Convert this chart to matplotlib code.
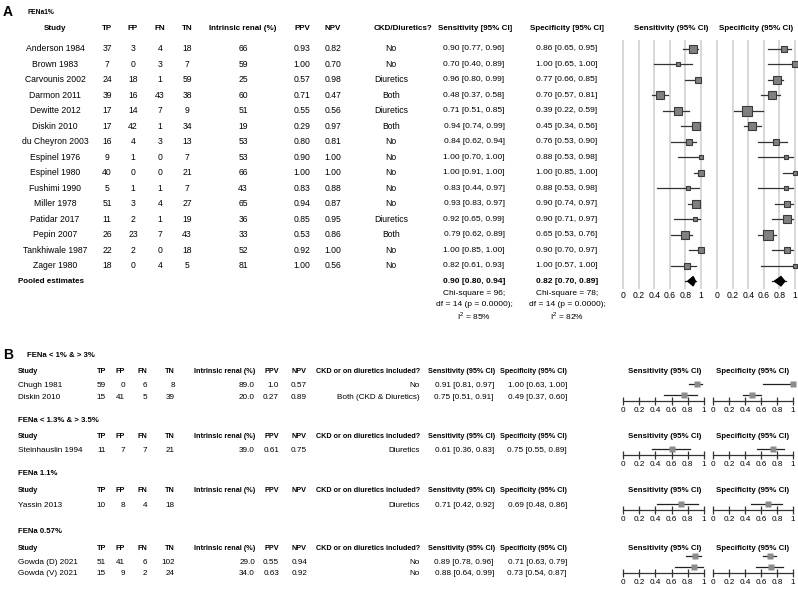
import numpy as np
import matplotlib
matplotlib.use("Agg")
import matplotlib.pyplot as plt
from matplotlib.patches import Polygon

plt.rcParams['font.family'] = ['Liberation Sans', 'DejaVu Sans']
plt.rcParams['mathtext.fontset'] = 'custom'
plt.rcParams['mathtext.rm'] = 'Liberation Sans'

# ---- panel A data (FENa 1%) ----
studies_a = ["Anderson 1984", "Brown 1983", "Carvounis 2002", "Darmon 2011", "Dewitte 2012",
             "Diskin 2010", "du Cheyron 2003", "Espinel 1976", "Espinel 1980", "Fushimi 1990",
             "Miller 1978", "Patidar 2017", "Pepin 2007", "Tankhiwale 1987", "Zager 1980"]
tp_a = [37, 7, 24, 39, 17, 17, 16, 9, 40, 5, 51, 11, 26, 22, 18]
fp_a = [3, 0, 18, 16, 14, 42, 4, 1, 0, 1, 3, 2, 23, 2, 0]
fn_a = [4, 3, 1, 43, 7, 1, 3, 0, 0, 1, 4, 1, 7, 0, 4]
tn_a = [18, 7, 59, 38, 9, 34, 13, 7, 21, 7, 27, 19, 43, 18, 5]
renal_a = [66, 59, 25, 60, 51, 19, 53, 53, 66, 43, 65, 36, 33, 52, 81]
ppv_a = [0.93, 1.00, 0.57, 0.71, 0.55, 0.29, 0.80, 0.90, 1.00, 0.83, 0.94, 0.85, 0.53, 0.92, 1.00]
npv_a = [0.82, 0.70, 0.98, 0.47, 0.56, 0.97, 0.81, 1.00, 1.00, 0.88, 0.87, 0.95, 0.86, 1.00, 0.56]
ckd_a = ["No", "No", "Diuretics", "Both", "Diuretics", "Both", "No", "No", "No", "No",
         "No", "Diuretics", "Both", "No", "No"]
sens_a = [0.90, 0.70, 0.96, 0.48, 0.71, 0.94, 0.84, 1.00, 1.00, 0.83, 0.93, 0.92, 0.79, 1.00, 0.82]
sens_lo_a = [0.77, 0.40, 0.80, 0.37, 0.51, 0.74, 0.62, 0.70, 0.91, 0.44, 0.83, 0.65, 0.62, 0.85, 0.61]
sens_hi_a = [0.96, 0.89, 0.99, 0.58, 0.85, 0.99, 0.94, 1.00, 1.00, 0.97, 0.97, 0.99, 0.89, 1.00, 0.93]
spec_a = [0.86, 1.00, 0.77, 0.70, 0.39, 0.45, 0.76, 0.88, 1.00, 0.88, 0.90, 0.90, 0.65, 0.90, 1.00]
spec_lo_a = [0.65, 0.65, 0.66, 0.57, 0.22, 0.34, 0.53, 0.53, 0.85, 0.53, 0.74, 0.71, 0.53, 0.70, 0.57]
spec_hi_a = [0.95, 1.00, 0.85, 0.81, 0.59, 0.56, 0.90, 0.98, 1.00, 0.98, 0.97, 0.97, 0.76, 0.97, 1.00]
# relative study weights (square size)
sens_w_a = [6.5, 4, 5.5, 7.5, 7, 7, 6, 4, 5, 4, 7.5, 4.5, 7, 5, 6]
spec_w_a = [6, 5, 8, 8, 8.5, 8, 6, 3, 4, 4.5, 6, 7, 8.5, 5, 3.5]
pooled_sens = (0.90, 0.80, 0.94)
pooled_spec = (0.82, 0.70, 0.89)
het_sens = ["Chi-square = 96;", "df = 14 (p = 0.0000);", r"I$^2$ = 85%"]
het_spec = ["Chi-square = 78;", "df = 14 (p = 0.0000);", r"I$^2$ = 82%"]

# ---- panel B data ----
groups_b = ["FENa < 1% & > 3%", "FENa < 1.3% & > 3.5%", "FENa 1.1%", "FENa 0.57%"]
studies_b = [["Chugh 1981", "Diskin 2010"], ["Steinhauslin 1994"], ["Yassin 2013"],
             ["Gowda (D) 2021", "Gowda (V) 2021"]]
tp_b = [[59, 15], [11], [10], [51, 15]]
fp_b = [[0, 41], [7], [8], [41, 9]]
fn_b = [[6, 5], [7], [4], [6, 2]]
tn_b = [[8, 39], [21], [18], [102, 24]]
renal_b = [["89.0", "20.0"], ["39.0"], [""], ["29.0", "34.0"]]
ppv_b = [["1.0", "0.27"], ["0.61"], [""], ["0.55", "0.63"]]
npv_b = [["0.57", "0.89"], ["0.75"], [""], ["0.94", "0.92"]]
ckd_b = [["No", "Both (CKD & Diuretics)"], ["Diuretics"], ["Diuretics"], ["No", "No"]]
sens_b = [[(0.91, 0.81, 0.97), (0.75, 0.51, 0.91)], [(0.61, 0.36, 0.83)], [(0.71, 0.42, 0.92)],
          [(0.89, 0.78, 0.96), (0.88, 0.64, 0.99)]]
spec_b = [[(1.00, 0.63, 1.00), (0.49, 0.37, 0.60)], [(0.75, 0.55, 0.89)], [(0.69, 0.48, 0.86)],
          [(0.71, 0.63, 0.79), (0.73, 0.54, 0.87)]]

ticks = [0, 0.2, 0.4, 0.6, 0.8, 1]
tick_labels = ["0", "0.2", "0.4", "0.6", "0.8", "1"]

W, H = 798, 591
fig = plt.figure(figsize=(W / 100, H / 100), dpi=100)


def put(x, y, s, size=6.2, **kw):
    fig.text(x / W, 1 - y / H, s, va='center', fontsize=size, **kw)


def ax_px(left, top, right, bottom):
    return fig.add_axes([left / W, 1 - bottom / H, (right - left) / W, (bottom - top) / H])


def fmt_ci(t):
    return "%.2f [%.2f, %.2f]" % t

# ================= panel A =================
put(3, 12, "A", size=10, weight='bold')
put(27, 12, "FENa1%", size=4.8, weight='bold')

y0, dy = 48.7, 15.5
hy = 29
ha_sz = 5.8
put(55, hy, "Study", size=ha_sz, ha='center', weight='bold')
for x, s in [(107, "TP"), (133, "FP"), (160, "FN"), (187, "TN"), (243, "Intrinsic renal (%)"),
             (302, "PPV"), (333, "NPV"), (403, "CKD/Diuretics?"), (475, "Sensitivity [95% CI]"),
             (567, "Specificity [95% CI]"), (671, "Sensitivity (95% CI)"), (756, "Specificity (95% CI)")]:
    put(x, hy, s, size=ha_sz, ha='center', weight='bold')

for i, name in enumerate(studies_a):
    y = y0 + dy * i
    put(55, y, name, ha='center')
    put(107, y, str(tp_a[i]), ha='center')
    put(133, y, str(fp_a[i]), ha='center')
    put(160, y, str(fn_a[i]), ha='center')
    put(187, y, str(tn_a[i]), ha='center')
    put(243, y, str(renal_a[i]), ha='center')
    put(302, y, "%.2f" % ppv_a[i], ha='center')
    put(333, y, "%.2f" % npv_a[i], ha='center')
    put(391, y, ckd_a[i], ha='center')
    put(474, y, fmt_ci((sens_a[i], sens_lo_a[i], sens_hi_a[i])), ha='center', size=6.0)
    put(567, y, fmt_ci((spec_a[i], spec_lo_a[i], spec_hi_a[i])), ha='center', size=6.0)

yp = y0 + dy * len(studies_a)
put(18, yp, "Pooled estimates", size=ha_sz, weight='bold')
put(474, yp, fmt_ci(pooled_sens), ha='center', size=6.0, weight='bold')
put(567, yp, fmt_ci(pooled_spec), ha='center', size=6.0, weight='bold')
for k in range(3):
    put(474, 294 + 11 * k, het_sens[k], ha='center', size=6.0)
    put(567, 294 + 11 * k, het_spec[k], ha='center', size=6.0)

n_a = len(studies_a)
top_a, bot_a = 40, 289
m = 0.03
for (x0, x1), est, lo, hi, wts, pooled in [((623, 701), sens_a, sens_lo_a, sens_hi_a, sens_w_a, pooled_sens),
                                           ((717, 795), spec_a, spec_lo_a, spec_hi_a, spec_w_a, pooled_spec)]:
    span = x1 - x0
    ax = ax_px(x0 - m * span, top_a, x1 + m * span, bot_a)
    ax.set_xlim(-m, 1 + m)
    ax.set_ylim((bot_a - y0) / dy, (top_a - y0) / dy)
    ax.set_xticks(ticks)
    ax.set_xticklabels(tick_labels)
    ax.set_yticks([])
    ax.tick_params(axis='x', length=0, labelsize=6.2, pad=1.5)
    ax.grid(axis='x', color='#d4d4d4', lw=1.3)
    ax.set_axisbelow(True)
    for sp in ax.spines.values():
        sp.set_visible(False)
    ax.patch.set_alpha(0)
    for i in range(n_a):
        ax.plot([lo[i], hi[i]], [i, i], color='#333333', lw=0.9, clip_on=False, zorder=2)
        ax.plot(est[i], i, marker='s', ms=wts[i] * 0.78, mfc='#808080', mec='#3a3a3a',
                mew=0.8, clip_on=False, zorder=3)
    e, l, h = pooled
    ax.plot([l, h], [n_a, n_a], color='#222222', lw=0.9, zorder=2)
    ax.add_patch(Polygon([(l + 0.3 * (e - l), n_a), (e, n_a - 0.3), (h - 0.3 * (h - e), n_a), (e, n_a + 0.3)],
                         closed=True, color='black', zorder=3))

# ================= panel B =================
put(3, 355, "B", size=10, weight='bold')
title_y = [355.7, 420, 473.3, 531.7]
title_x = [27, 18, 18, 18]
head_y = [371.7, 436, 491, 548.3]
row_y = [[385.7, 397.3], [451], [505.3], [562.3, 573.3]]
axis_y = [401, 455, 510, 573]
bs = 5.9
hs = 5.2

for g, grp in enumerate(groups_b):
    put(title_x[g], title_y[g], grp, size=5.6, weight='bold')
    hy = head_y[g]
    put(18, hy, "Study", size=hs, weight='bold')
    for x, s in [(106, "TP"), (125, "FP"), (147, "FN"), (175, "TN"), (255, "Intrinsic renal (%)"),
                 (279, "PPV"), (307, "NPV"), (420, "CKD or on diuretics included?"),
                 (495, "Sensitivity (95% CI)"), (567, "Specificity (95% CI)")]:
        put(x, hy, s, size=hs, ha='right', weight='bold')
    put(665, hy, "Sensitivity (95% CI)", size=5.7, ha='center', weight='bold')
    put(753, hy, "Specificity (95% CI)", size=5.7, ha='center', weight='bold')
    n = len(studies_b[g])
    for i in range(n):
        y = row_y[g][i]
        put(18, y, studies_b[g][i], size=bs)
        put(106, y, str(tp_b[g][i]), size=bs, ha='right')
        put(125, y, str(fp_b[g][i]), size=bs, ha='right')
        put(147, y, str(fn_b[g][i]), size=bs, ha='right')
        put(175, y, str(tn_b[g][i]), size=bs, ha='right')
        put(255, y, renal_b[g][i], size=bs, ha='right')
        put(279, y, ppv_b[g][i], size=bs, ha='right')
        put(307, y, npv_b[g][i], size=bs, ha='right')
        put(420, y, ckd_b[g][i], size=bs, ha='right')
        put(494, y, fmt_ci(sens_b[g][i]), size=bs, ha='right')
        put(567, y, fmt_ci(spec_b[g][i]), size=bs, ha='right')

    ya = axis_y[g]
    hpx = 11 * n + 2
    for (x0, x1), vals in [((623, 704), sens_b[g]), ((713, 793), spec_b[g])]:
        ax = ax_px(x0, ya - hpx, x1, ya)
        ax.set_xlim(0, 1)
        ax.set_ylim(0, hpx)
        ax.set_xticks(ticks)
        ax.set_xticklabels(tick_labels)
        ax.set_yticks([])
        ax.tick_params(axis='x', direction='inout', length=6, width=0.9, color='#333333',
                       labelsize=bs, pad=1.0)
        for s in ['top', 'left', 'right']:
            ax.spines[s].set_visible(False)
        ax.spines['bottom'].set_color('#333333')
        ax.spines['bottom'].set_linewidth(0.9)
        ax.patch.set_alpha(0)
        for i in range(n):
            yy = 6 + 11 * (n - 1 - i)
            e, l, h = vals[i]
            ax.plot([l, h], [yy, yy], color='#222222', lw=0.9, clip_on=False)
            ax.plot(e, yy, marker='s', ms=4.4, mfc='#8c8c8c', mec='none', clip_on=False)

fig.savefig("out.png", dpi=100)
